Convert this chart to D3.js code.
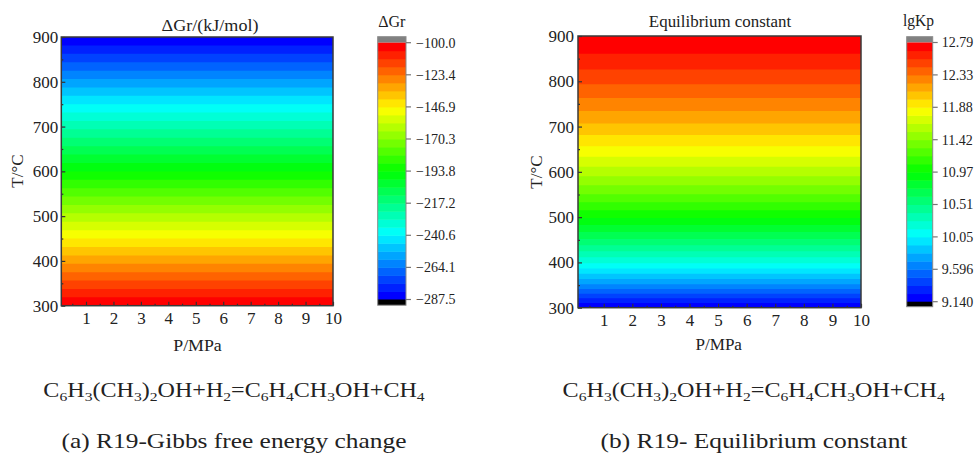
<!DOCTYPE html>
<html><head><meta charset="utf-8">
<script src="https://cdn.jsdelivr.net/npm/d3@7"></script>
<style>
body{margin:0;background:#fff}
text{font-family:"Liberation Serif","Times New Roman",serif;fill:#222}
</style>
</head><body>
<svg id="chart" width="974" height="455"></svg>
<script>
// ---------- data ----------
const pressures = [0.1, 1, 2, 3, 4, 5, 6, 7, 8, 9, 10];           // P / MPa
const temperatures = [300, 350, 400, 450, 500, 550, 600, 650, 700, 750, 800, 850, 900]; // T / °C
const deltaG = [-100.0, -115.6, -131.3, -146.9, -162.5, -178.1, -193.8, -209.4, -225.0, -240.6, -256.3, -271.9, -287.5]; // kJ/mol, same at every P
const lgKp = [9.140, 9.692, 10.185, 10.610, 10.979, 11.304, 11.591, 11.848, 12.077, 12.285, 12.473, 12.645, 12.790]; // same at every P
const xTickValues = [1, 2, 3, 4, 5, 6, 7, 8, 9, 10];
const xMinorValues = [0.5, 1.5, 2.5, 3.5, 4.5, 5.5, 6.5, 7.5, 8.5, 9.5];
const yTickValues = [300, 400, 500, 600, 700, 800, 900];
const yMinorValues = [350, 450, 550, 650, 750, 850];
const deltaGTickLabels = ["\u2212287.5", "\u2212264.1", "\u2212240.6", "\u2212217.2", "\u2212193.8", "\u2212170.3", "\u2212146.9", "\u2212123.4", "\u2212100.0"];
const lgKpTickLabels = ["9.140", "9.596", "10.05", "10.51", "10.97", "11.42", "11.88", "12.33", "12.79"];
const nLevels = 32;

// ---------- helpers ----------
const svg = d3.select("#chart");
const rainbow = d3.scaleLinear()
  .domain([0, 0.25, 0.5, 0.75, 1])
  .range(["#0000ff", "#00ffff", "#00ff00", "#ffff00", "#ff0000"])
  .interpolate(d3.interpolateRgb);

function fitText(parent, cx, baseline, width, size, build, rotate) {
  const g = parent.append("g");
  const t = g.append("text").attr("font-size", size).attr("text-anchor", "middle");
  build(t);
  const w = t.node().getBBox().width;
  const s = width ? width / w : 1;
  g.attr("transform", `translate(${cx},${baseline})${rotate ? " rotate(" + rotate + ")" : ""} scale(${s},1)`);
  return g;
}

function panel(cfg) {
  const { vals, x0, x1, y0, y1, cb, id } = cfg;
  const g = svg.append("g");
  const x = d3.scaleLinear().domain([0.1, 10]).range([x0, x1]);
  const y = d3.scaleLinear().domain([300, 900]).range([y1, y0]);

  // grid of values (P x T)
  const nx = pressures.length, ny = temperatures.length;
  const grid = [];
  for (let j = 0; j < ny; j++) for (let i = 0; i < nx; i++) grid.push(vals[j]);
  const lo = d3.min(vals), hi = d3.max(vals);
  const thresholds = d3.range(nLevels).map(k => lo + k * (hi - lo) / nLevels);
  const contours = d3.contours().size([nx, ny]).thresholds(thresholds)(grid);

  const ix = d3.scaleLinear().domain(pressures.map((_, i) => i + 0.5)).range(pressures);
  const iy = d3.scaleLinear().domain(temperatures.map((_, j) => j + 0.5)).range(temperatures);
  const proj = d3.geoTransform({
    point(px, py) { this.stream.point(x(ix(px)), y(iy(py))); }
  });
  const path = d3.geoPath(proj);

  svg.append("clipPath").attr("id", "clip" + id)
    .append("rect").attr("x", x0).attr("y", y0).attr("width", x1 - x0).attr("height", y1 - y0);

  g.append("g").attr("clip-path", `url(#clip${id})`)
    .selectAll("path").data(contours).join("path")
    .attr("d", path)
    .attr("fill", (d, k) => rainbow(k / (nLevels - 1)));

  // axes (ticks inward)
  const axCol = "#333";
  const xa = g.append("g").attr("transform", `translate(0,${y1})`)
    .call(d3.axisBottom(x).tickValues(xTickValues).tickSize(-4).tickPadding(6).tickFormat(d3.format("d")));
  const xm = g.append("g").attr("transform", `translate(0,${y1})`)
    .call(d3.axisBottom(x).tickValues(xMinorValues).tickSize(-2).tickFormat(""));
  const ya = g.append("g").attr("transform", `translate(${x0},0)`)
    .call(d3.axisLeft(y).tickValues(yTickValues).tickSize(-4).tickPadding(cfg.yPad).tickFormat(d3.format("d")));
  const ym = g.append("g").attr("transform", `translate(${x0},0)`)
    .call(d3.axisLeft(y).tickValues(yMinorValues).tickSize(-2).tickFormat(""));
  [xa, xm, ya, ym].forEach(a => {
    a.select(".domain").remove();
    a.selectAll("line").attr("stroke", axCol).attr("stroke-width", 1.2);
    a.selectAll("text").attr("font-family", "'Liberation Serif', serif").attr("font-size", 17).attr("fill", "#222");
  });

  g.append("rect").attr("x", x0).attr("y", y0).attr("width", x1 - x0).attr("height", y1 - y0)
    .attr("fill", "none").attr("stroke", "#3a3a3a").attr("stroke-width", 1.5);

  // colour bar
  const cs = d3.scaleLinear().domain([lo, hi]).range([cb.bandBot, cb.bandTop]);
  const cg = g.append("g");
  cg.append("rect").attr("x", cb.x).attr("y", cb.top).attr("width", cb.w).attr("height", cb.bandTop - cb.top).attr("fill", "#808080");
  cg.selectAll("rect.band").data(thresholds).join("rect").attr("class", "band")
    .attr("x", cb.x).attr("width", cb.w)
    .attr("y", (t, k) => cs(k === nLevels - 1 ? hi : thresholds[k + 1]))
    .attr("height", (t, k) => cs(t) - cs(k === nLevels - 1 ? hi : thresholds[k + 1]) + 0.5)
    .attr("fill", (t, k) => rainbow(k / (nLevels - 1)));
  cg.append("rect").attr("x", cb.x).attr("y", cb.bandBot).attr("width", cb.w).attr("height", cb.bot - cb.bandBot).attr("fill", "#000");
  cg.append("rect").attr("x", cb.x).attr("y", cb.top).attr("width", cb.w).attr("height", cb.bot - cb.top)
    .attr("fill", "none").attr("stroke", "#8a8a8a").attr("stroke-width", 1);
  const tickVals = d3.range(9).map(i => lo + i * (hi - lo) / 8);
  cg.selectAll("line.ct").data(tickVals).join("line").attr("class", "ct")
    .attr("x1", cb.x + cb.w).attr("x2", cb.x + cb.w + 5)
    .attr("y1", d => cs(d)).attr("y2", d => cs(d))
    .attr("stroke", "#777").attr("stroke-width", 1.2);
  cg.selectAll("text.cl").data(tickVals).join("text").attr("class", "cl")
    .attr("x", cb.x + cb.w + cb.labOff).attr("y", d => cs(d)).attr("dy", "0.35em")
    .attr("font-size", 14)
    .text((d, i) => cfg.labels[i]);

  return { x, y };
}

// ---------- panel (a) ----------
panel({
  id: "a", vals: deltaG, x0: 61.3, x1: 333, y0: 37, y1: 305.7, yPad: 3,
  cb: { x: 377.7, w: 28.3, top: 36.7, bandTop: 42.7, bandBot: 299.5, bot: 305.2, labOff: 10 },
  labels: deltaGTickLabels
});
// ---------- panel (b) ----------
panel({
  id: "b", vals: lgKp, x0: 578, x1: 861, y0: 36, y1: 307.7, yPad: 4,
  cb: { x: 906.7, w: 26, top: 36.7, bandTop: 42.5, bandBot: 301.7, bot: 306.7, labOff: 9 },
  labels: lgKpTickLabels
});

// ---------- titles ----------
fitText(svg, 210, 31, 97, 16, t => t.text("\u0394Gr/(kJ/mol)"));
fitText(svg, 720, 26.5, 143, 16, t => t.text("Equilibrium constant"));
fitText(svg, 391.8, 26.5, 28, 16, t => t.text("\u0394Gr"));
fitText(svg, 918.5, 26, 31, 16, t => t.text("lgKp"));
fitText(svg, 197.5, 351, 49, 17, t => t.text("P/MPa"));
fitText(svg, 718.7, 350, 47, 17, t => t.text("P/MPa"));
fitText(svg, 23, 171, null, 17, t => t.text("T/\u00b0C"), -90);
fitText(svg, 542, 172, null, 17, t => t.text("T/\u00b0C"), -90);

// ---------- captions ----------
function equation(t) {
  const parts = [["C", 0], ["6", 1], ["H", 0], ["3", 1], ["(CH", 0], ["3", 1], [")", 0], ["2", 1], ["OH+H", 0], ["2", 1],
    ["=C", 0], ["6", 1], ["H", 0], ["4", 1], ["CH", 0], ["3", 1], ["OH+CH", 0], ["4", 1]];
  let sub = false;
  parts.forEach(([s, isSub]) => {
    const ts = t.append("tspan").text(s);
    if (isSub) { ts.attr("font-size", 13); if (!sub) ts.attr("dy", 4); }
    else if (sub) ts.attr("dy", -4);
    sub = !!isSub;
  });
}
fitText(svg, 234, 397, 382, 20, equation);
fitText(svg, 753.7, 397, 383, 20, equation);
fitText(svg, 234, 448, 345, 22, t => t.text("(a) R19-Gibbs free energy change"));
fitText(svg, 754, 448, 307, 22, t => t.text("(b) R19- Equilibrium constant"));
</script>
</body></html>
